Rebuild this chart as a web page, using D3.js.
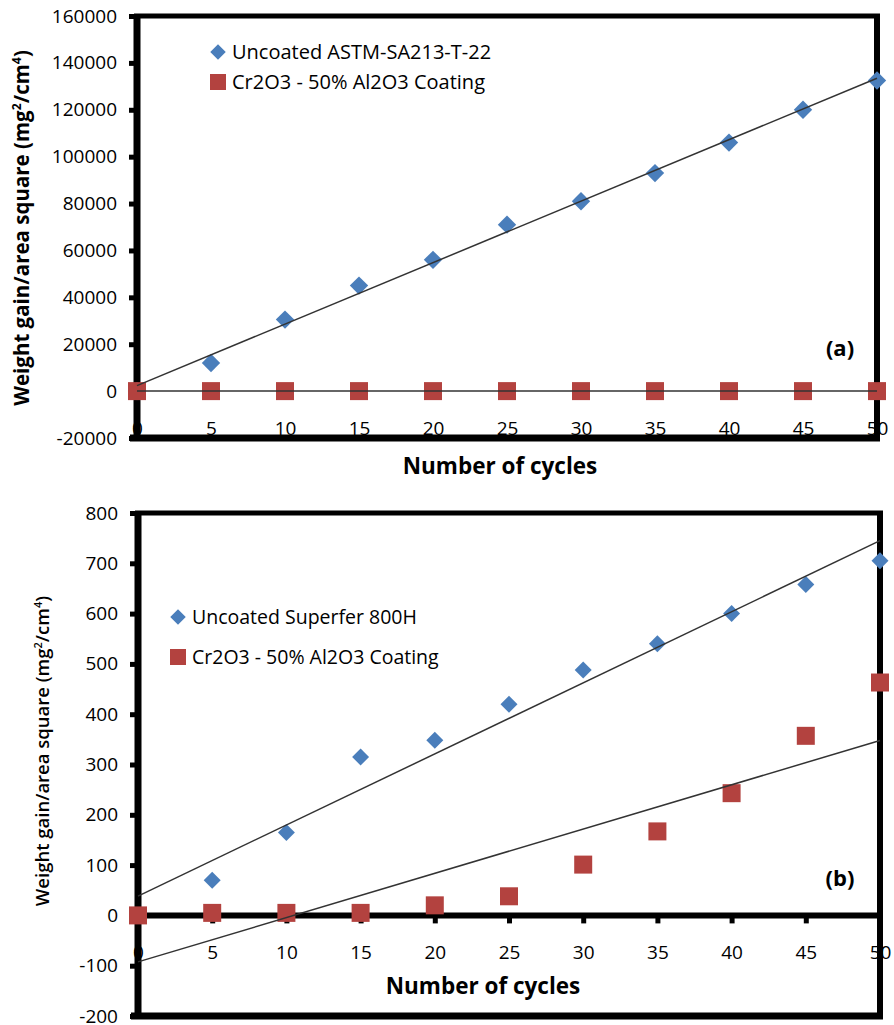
<!DOCTYPE html>
<html>
<head>
<meta charset="utf-8">
<script src="https://cdn.jsdelivr.net/npm/d3@7"></script>
<style>
  body { margin: 0; background: #fff; overflow: hidden; }
  svg { display: block; }
  text { font-family: "Open Sans", sans-serif; fill: #000; }
</style>
</head>
<body>
<div id="chart"></div>
<script>
// Data
var cycles = [0, 5, 10, 15, 20, 25, 30, 35, 40, 45, 50];

// panel (a)
var uncoatedSA213 = [0, 12000, 30500, 45000, 56000, 71000, 81000, 93000, 106000, 120000, 132500];
var coatedSA213 = [0, 0, 0, 0, 0, 0, 0, 0, 0, 0, 0];
var yTicksA = [-20000, 0, 20000, 40000, 60000, 80000, 100000, 120000, 140000, 160000];

// panel (b)
var uncoated800H = [0, 70, 165, 315, 348, 420, 488, 540, 600, 658, 705];
var coated800H = [0, 5, 5, 5, 20, 38, 101, 167, 243, 357, 463];
var yTicksB = [-200, -100, 0, 100, 200, 300, 400, 500, 600, 700, 800];

var xTicks = [0, 5, 10, 15, 20, 25, 30, 35, 40, 45, 50];

var blue = "#4a7ebb";
var red = "#b3423f";

var svg = d3.select("#chart")
    .append("svg")
    .attr("width", 894)
    .attr("height", 1025);

// least squares line, like the Excel linear trendline
function fitLine(xs, ys) {
    var mx = d3.mean(xs), my = d3.mean(ys);
    var num = d3.sum(xs, (x, i) => (x - mx) * (ys[i] - my));
    var den = d3.sum(xs, x => (x - mx) * (x - mx));
    var slope = num / den;
    return { slope: slope, intercept: my - slope * mx };
}

function drawPanel(p) {
    var x = d3.scaleLinear().domain([0, 50]).range([p.left, p.right]);
    var y = d3.scaleLinear().domain(p.yDomain).range([p.bottom, p.top]);
    var g = svg.append("g");

    // y axis ticks + labels (plain hyphen for negatives, as in the figure)
    var yAxis = d3.axisLeft(y).tickValues(p.yTicks).tickSize(8).tickPadding(12)
        .tickFormat(d => String(d));
    var ya = g.append("g").attr("transform", `translate(${p.left},0)`).call(yAxis);
    ya.select(".domain").remove();
    ya.selectAll("line").attr("stroke", "#000").attr("stroke-width", 5);
    ya.selectAll("text").style("font-size", p.tickFont + "px").attr("fill", "#000");

    // x axis
    var xAxis = d3.axisBottom(x).tickValues(xTicks).tickSize(p.xTickSize).tickPadding(0);
    var xa = g.append("g").attr("transform", `translate(0,${y(p.xAxisAt)})`).call(xAxis);
    xa.select(".domain").remove();
    xa.selectAll("line").attr("stroke", "#000").attr("stroke-width", 5);
    xa.selectAll("text")
        .attr("y", p.xLabelY).attr("dy", 0)
        .style("font-size", p.tickFont + "px").attr("fill", "#000");

    // frame
    g.append("line").attr("x1", p.left - 3).attr("x2", p.right + 3)
        .attr("y1", p.top).attr("y2", p.top)
        .attr("stroke", "#000").attr("stroke-width", 5);
    g.append("line").attr("x1", p.right).attr("x2", p.right)
        .attr("y1", p.top - 2).attr("y2", p.bottom + 3)
        .attr("stroke", "#000").attr("stroke-width", 6);
    g.append("line").attr("x1", p.left - 7).attr("x2", p.right + 3)
        .attr("y1", p.bottom).attr("y2", p.bottom)
        .attr("stroke", "#000").attr("stroke-width", 7);
    g.append("line").attr("x1", p.left).attr("x2", p.left)
        .attr("y1", p.top - 2).attr("y2", p.bottom + 3)
        .attr("stroke", "#000").attr("stroke-width", 7);
    if (p.zeroAxis) {
        g.append("line").attr("x1", p.left).attr("x2", p.right)
            .attr("y1", y(0)).attr("y2", y(0))
            .attr("stroke", "#000").attr("stroke-width", 6);
    }

    // markers
    var diamond = d3.symbol(d3.symbolSquare, p.diamondSize);
    var square = d3.symbol(d3.symbolSquare, p.squareSize);

    g.selectAll(".dia")
        .data(cycles.map((c, i) => [c, p.uncoated[i]]))
        .enter()
        .append("path")
        .attr("d", diamond)
        .attr("transform", d => `translate(${x(d[0])},${y(d[1])}) rotate(45)`)
        .attr("fill", blue);

    g.selectAll(".sq")
        .data(cycles.map((c, i) => [c, p.coated[i]]))
        .enter()
        .append("path")
        .attr("d", square)
        .attr("transform", d => `translate(${x(d[0])},${y(d[1])})`)
        .attr("fill", red);

    // trendlines
    [p.uncoated, p.coated].forEach(function(series) {
        var f = fitLine(cycles, series);
        g.append("line")
            .attr("x1", x(0)).attr("y1", y(f.intercept))
            .attr("x2", x(50)).attr("y2", y(f.intercept + f.slope * 50))
            .attr("stroke", "#333")
            .attr("stroke-width", 1.5);
    });

    // legend
    var lg = g.append("g").attr("transform", `translate(${p.legendX},${p.legendY})`);
    lg.append("path").attr("d", d3.symbol(d3.symbolSquare, 121))
        .attr("transform", "rotate(45)").attr("fill", blue);
    lg.append("rect").attr("x", -8).attr("y", p.legendGap - 8)
        .attr("width", 16).attr("height", 16).attr("fill", red);
    lg.append("text").attr("x", 14).attr("y", 0).attr("dy", "0.35em")
        .style("font-size", p.legendFont + "px").text(p.legendNames[0]);
    lg.append("text").attr("x", 14).attr("y", p.legendGap).attr("dy", "0.35em")
        .style("font-size", p.legendFont + "px").text(p.legendNames[1]);

    // panel tag
    g.append("text").attr("x", p.tagX).attr("y", p.tagY).attr("dy", "0.35em")
        .attr("text-anchor", "middle")
        .style("font-size", "22px").style("font-weight", "bold")
        .text(p.tag);

    // axis titles
    g.append("text")
        .attr("x", p.xTitleX).attr("y", p.xTitleY)
        .attr("text-anchor", "middle")
        .style("font-size", "22.5px").style("font-weight", "bold")
        .text("Number of cycles");

    var yt = g.append("text")
        .attr("transform", `translate(${p.yTitleX},${p.yTitleY}) rotate(-90)`)
        .attr("text-anchor", "middle")
        .attr("dy", "0.35em")
        .style("font-size", p.yTitleFont + "px").style("font-weight", p.yTitleWeight);
    yt.append("tspan").text("Weight gain/area square (mg");
    yt.append("tspan").attr("baseline-shift", "super").style("font-size", "0.6em").text("2");
    yt.append("tspan").text("/cm");
    yt.append("tspan").attr("baseline-shift", "super").style("font-size", "0.6em").text("4");
    yt.append("tspan").text(")");
}

drawPanel({
    left: 137, right: 877, top: 16, bottom: 438,
    yDomain: [-20000, 160000], yTicks: yTicksA,
    xAxisAt: -20000, xTickSize: 0, xLabelY: -3, zeroAxis: false,
    uncoated: uncoatedSA213, coated: coatedSA213,
    diamondSize: 169, squareSize: 324, tickFont: 19,
    legendX: 218, legendY: 52, legendGap: 30, legendFont: 20,
    legendNames: ["Uncoated ASTM-SA213-T-22", "Cr2O3 - 50% Al2O3 Coating"],
    tag: "(a)", tagX: 840, tagY: 348,
    xTitleX: 500, xTitleY: 474,
    yTitleX: 22, yTitleY: 228, yTitleFont: 20.5, yTitleWeight: "bold"
});

drawPanel({
    left: 138, right: 880, top: 513, bottom: 1016,
    yDomain: [-200, 800], yTicks: yTicksB,
    xAxisAt: 0, xTickSize: 8, xLabelY: 44, zeroAxis: true,
    uncoated: uncoated800H, coated: coated800H,
    diamondSize: 144, squareSize: 324, tickFont: 19,
    legendX: 178, legendY: 617, legendGap: 40, legendFont: 19.5,
    legendNames: ["Uncoated Superfer 800H", "Cr2O3 - 50% Al2O3 Coating"],
    tag: "(b)", tagX: 840, tagY: 878,
    xTitleX: 483, xTitleY: 994,
    yTitleX: 43, yTitleY: 751, yTitleFont: 18.5, yTitleWeight: 600
});
</script>
</body>
</html>
